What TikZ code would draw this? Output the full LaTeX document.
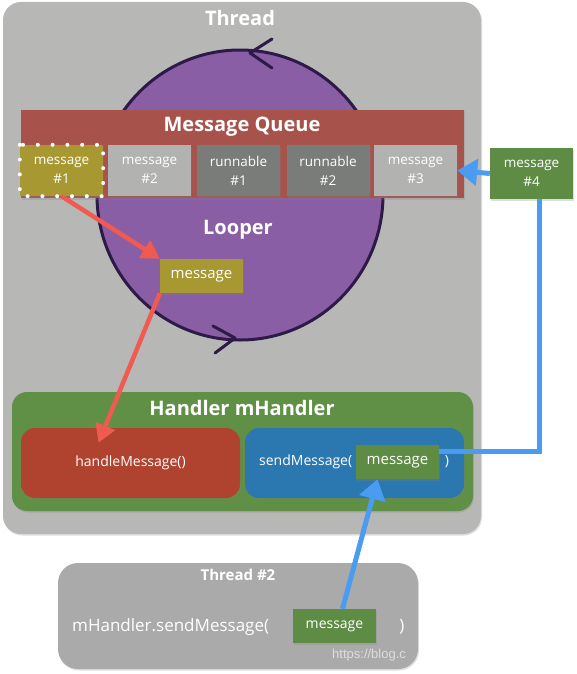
\documentclass[tikz,border=0pt]{standalone}
\usepackage{fontspec}
\setmainfont{Open Sans}
\newfontfamily\markfont{Liberation Sans}
\usetikzlibrary{arrows.meta,shadows,shapes.geometric}

\definecolor{bggray}{RGB}{183,183,182}
\definecolor{looppurple}{RGB}{138,94,164}
\definecolor{loopline}{RGB}{45,26,72}
\definecolor{queuered}{RGB}{168,82,76}
\definecolor{msgolive}{RGB}{168,152,50}
\definecolor{msggray}{RGB}{178,178,176}
\definecolor{rungray}{RGB}{122,124,121}
\definecolor{msggreen}{RGB}{94,140,69}
\definecolor{handlergreen}{RGB}{96,144,70}
\definecolor{handlered}{RGB}{176,66,48}
\definecolor{sendblue}{RGB}{43,120,176}
\definecolor{threadgray}{RGB}{170,170,170}
\definecolor{arrowred}{RGB}{240,90,80}
\definecolor{arrowblue}{RGB}{74,156,240}

\tikzset{
	box/.style={rectangle,inner sep=0pt,text=white,align=center},
	softshadow/.style={drop shadow={opacity=0.25,shadow xshift=1pt,shadow yshift=-1.5pt}},
	item/.style={box,softshadow,minimum width=83pt,minimum height=51pt,font=\fontsize{13.5}{19}\selectfont},
	smallmsg/.style={box,softshadow,minimum width=83pt,minimum height=34pt,font=\fontsize{15}{18}\selectfont},
	title/.style={text=white,font=\bfseries\fontsize{20}{24}\selectfont},
	redarrow/.style={color=arrowred,line width=4.5pt,-{Triangle[length=18pt,width=20pt]}},
	bluearrow/.style={color=arrowblue,line width=5pt,-{Triangle[length=20pt,width=26pt]}},
	chevron/.style={draw=loopline,line width=3pt,line cap=round,line join=round}
}

\begin{document}
\begin{tikzpicture}[x=1pt,y=-1pt]
	\path [fill=white,use as bounding box] (0,0) rectangle (576,674);

	\node (thread) [box,fill=bggray,rounded corners=18pt,softshadow,minimum width=478pt,minimum height=532pt] at (242,268) {};
	\node (threadtitle) [title] at (240,18) {Thread};

	\node (loop) [ellipse,fill=looppurple,draw=loopline,line width=3pt,minimum width=286pt,minimum height=290pt] at (240,195) {};
	\draw [chevron] (272,39) -- (250,53) -- (272,68);
	\draw [chevron] (213,326) -- (235,338) -- (215,353);

	\node (queue) [box,softshadow,fill=queuered,minimum width=443pt,minimum height=88pt] at (242.5,154) {};
	\node (queuetitle) [title] at (242,127) {Message Queue};

	\begin{scope}[every node/.style={item}]
	\node (msg1) [fill=msgolive] at (61.5,170.5) {message\\\#1};
	\node (msg2) [fill=msggray] at (149.5,170.5) {message\\\#2};
	\node (run1) [fill=rungray] at (238.5,170.5) {runnable\\\#1};
	\node (run2) [fill=rungray] at (328,170.5) {runnable\\\#2};
	\node (msg3) [fill=msggray] at (415.5,170.5) {message\\\#3};
	\node (msg4) [fill=msggreen] at (531.5,173.5) {message\\\#4};
	\end{scope}
	\draw [white,line width=4pt,line cap=round,dash pattern=on 0pt off 14.8pt] (msg1.north west) rectangle (msg1.south east);

	\node (loopertitle) [title] at (238,230) {Looper};
	\node (loopmsg) [smallmsg,fill=msgolive] at (201.5,276) {message};

	\node (handler) [box,softshadow,fill=handlergreen,rounded corners=15pt,minimum width=461pt,minimum height=119pt] at (242.5,451.5) {};
	\node (handlertitle) [title] at (242,408) {Handler mHandler};
	\node (handle) [box,softshadow,fill=handlered,rounded corners=14pt,minimum width=219pt,minimum height=70pt,font=\fontsize{14}{17}\selectfont] at (130.5,463) {handleMessage()};
	\node (send) [box,softshadow,fill=sendblue,rounded corners=14pt,minimum width=219pt,minimum height=70pt] at (354.5,463) {};
	\node (sendtext) [text=white,anchor=west,inner sep=0pt,font=\fontsize{14}{17}\selectfont] at (259,462) {sendMessage(};
	\node (sendmsg) [smallmsg,fill=msggreen] at (397.5,462) {message};
	\node (sendclose) [text=white,inner sep=0pt,font=\fontsize{14}{17}\selectfont] at (447,462) {)};

	\node (thread2) [box,softshadow,fill=threadgray,rounded corners=20pt,minimum width=360pt,minimum height=106pt] at (238,616) {};
	\node (thread2title) [text=white,font=\bfseries\fontsize{15}{18}\selectfont] at (238,575) {Thread \#2};
	\node (calltext) [text=white,anchor=west,inner sep=0pt,font=\fontsize{17}{20}\selectfont] at (72,627) {mHandler.sendMessage(};
	\node (t2msg) [smallmsg,fill=msggreen,font=\fontsize{14}{17}\selectfont] at (334.5,626) {message};
	\node (callclose) [text=white,inner sep=0pt,font=\fontsize{17}{20}\selectfont] at (402,627) {)};
	\node (mark) [text=white,opacity=0.6,anchor=west,inner sep=0pt,font=\markfont\fontsize{13}{15}\selectfont] at (332,655) {https://blog.c};

	\path [redarrow] (msg1.south) edge (loopmsg.north west);
	\path [redarrow] (loopmsg.south west) edge ([xshift=-32pt,yshift=-15pt]handle.north);

	\path [bluearrow] (msg4.west) edge (msg3.east);
	\draw [color=arrowblue,line width=5pt] ([xshift=7.5pt]msg4.south) |- ([yshift=11pt]sendmsg.east);
	\path [bluearrow] ([xshift=8pt]t2msg.north) edge ([xshift=-20pt]sendmsg.south);

\end{tikzpicture}
\end{document}
